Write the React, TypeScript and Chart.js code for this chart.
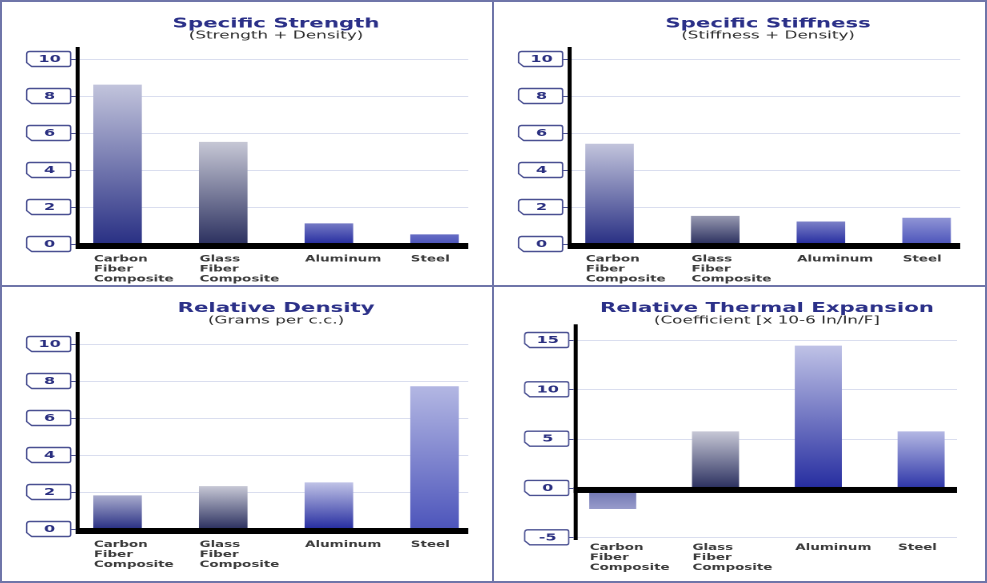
import { useEffect, useRef } from 'react';
import { Chart, registerables } from 'chart.js';

Chart.register(...registerables);

// ---------- data ----------
const categories: (string | string[])[] = [
  ['Carbon', 'Fiber', 'Composite'],
  ['Glass', 'Fiber', 'Composite'],
  'Aluminum',
  'Steel',
];
const strengthValues = [8.6, 5.5, 1.1, 0.5];
const stiffnessValues = [5.4, 1.5, 1.2, 1.4];
const densityValues = [1.8, 2.3, 2.5, 7.7];
const thermalValues = [-2.1, 5.7, 14.4, 5.7];
const ticksZeroToTen = [0, 2, 4, 6, 8, 10];
const ticksThermal = [-5, 0, 5, 10, 15];
const titles = ['Specific Strength', 'Specific Stiffness', 'Relative Density', 'Relative Thermal Expansion'];
const subtitles = ['(Strength + Density)', '(Stiffness + Density)', '(Grams per c.c.)', '(Coefficient [x 10-6 In/In/F]'];

// ---------- styles / layout ----------
const FONT = '"DejaVu Sans", Verdana, sans-serif';
const SX = 1.6;
const barTop = ['#c2c4dc', '#c6c7d5', '#bfc2e6', '#b3b7e3'];
const barBottom = ['#293084', '#2c3160', '#262da0', '#4d55bb'];
const barBottomThermal = ['#293084', '#2c3160', '#262da0', '#2e36a8'];

interface PanelGeom {
  left: number; top: number; width: number; height: number;
  axisX: number; chartLeft: number; chartRight: number; gridEnd: number;
  chartTop: number; chartBottom: number; axisTop: number; axisBottom: number;
  barWidth: number; titleY: number; subY: number; labelY: number;
}

const geomTop = {
  axisX: 75.6, chartLeft: 62.7, chartRight: 485.4, gridEnd: 466.2,
  chartTop: 57, chartBottom: 242, axisTop: 45, axisBottom: 247,
  barWidth: 47.5, titleY: 22, subY: 34, labelY: 257.3,
};

const panels: { geom: PanelGeom; title: string; sub: string; values: number[]; ticks: number[]; bottoms: string[] }[] = [
  { geom: { left: 2, top: 2, width: 490, height: 283, ...geomTop }, title: titles[0], sub: subtitles[0], values: strengthValues, ticks: ticksZeroToTen, bottoms: barBottom },
  { geom: { left: 494, top: 2, width: 491, height: 283, ...geomTop }, title: titles[1], sub: subtitles[1], values: stiffnessValues, ticks: ticksZeroToTen, bottoms: barBottom },
  { geom: { left: 2, top: 287, width: 490, height: 294, ...geomTop, titleY: 21.5, subY: 33.6, labelY: 257.6 }, title: titles[2], sub: subtitles[2], values: densityValues, ticks: ticksZeroToTen, bottoms: barBottom },
  {
    geom: {
      left: 494, top: 287, width: 491, height: 294,
      axisX: 81.7, chartLeft: 67.3, chartRight: 478.5, gridEnd: 463,
      chartTop: 53, chartBottom: 250.3, axisTop: 37.3, axisBottom: 253,
      barWidth: 46, titleY: 21.5, subY: 33.6, labelY: 260.8,
    },
    title: titles[3], sub: subtitles[3], values: thermalValues, ticks: ticksThermal, bottoms: barBottomThermal,
  },
];

const decorPlugin = {
  id: 'decor',
  beforeDatasetsDraw(chart: any, _a: any, o: any) {
    const { ctx } = chart;
    const ys = chart.scales.y;
    ctx.save();
    ctx.scale(1 / o.sx, 1);
    ctx.strokeStyle = '#dadeef';
    ctx.lineWidth = 1;
    for (const t of ys.ticks) {
      const py = Math.round(ys.getPixelForValue(t.value)) + 0.5;
      ctx.beginPath();
      ctx.moveTo(o.axisX, py);
      ctx.lineTo(o.gridEnd, py);
      ctx.stroke();
    }
    ctx.restore();
  },
  afterDatasetsDraw(chart: any, _a: any, o: any) {
    const { ctx } = chart;
    const ys = chart.scales.y;
    const zero = ys.getPixelForValue(0);
    ctx.save();
    ctx.scale(1 / o.sx, 1);
    ctx.fillStyle = '#000';
    ctx.fillRect(o.axisX - 2, zero - 1, o.gridEnd - o.axisX + 2, 6);
    ctx.fillRect(o.axisX - 2, o.axisTop, 4, o.axisBottom - o.axisTop);
    for (const t of ys.ticks) {
      const py = ys.getPixelForValue(t.value);
      const r = o.axisX - 7;
      const l = r - 44;
      const top = py - 7.5;
      const bot = py + 7.5;
      ctx.beginPath();
      ctx.moveTo(l + 3, top);
      ctx.lineTo(r - 2, top);
      ctx.quadraticCurveTo(r, top, r, top + 2);
      ctx.lineTo(r, bot - 2);
      ctx.quadraticCurveTo(r, bot, r - 2, bot);
      ctx.lineTo(l + 5, bot);
      ctx.lineTo(l, bot - 4);
      ctx.lineTo(l, top + 3);
      ctx.quadraticCurveTo(l, top, l + 3, top);
      ctx.closePath();
      ctx.fillStyle = '#ffffff';
      ctx.fill();
      ctx.strokeStyle = '#4a5092';
      ctx.lineWidth = 1.4;
      ctx.stroke();
      const ty = Math.round(py) + 0.5;
      ctx.beginPath();
      ctx.moveTo(r, ty);
      ctx.lineTo(o.axisX - 2, ty);
      ctx.lineWidth = 1;
      ctx.stroke();
    }
    ctx.restore();
    ctx.save();
    ctx.font = `bold 10px ${FONT}`;
    ctx.fillStyle = '#2a2f80';
    ctx.textAlign = 'center';
    ctx.textBaseline = 'middle';
    for (const t of ys.ticks) {
      const py = ys.getPixelForValue(t.value);
      ctx.fillText(String(t.value), (o.axisX - 7 - 22 + 1) / o.sx, py + 0.5);
    }
    ctx.restore();
  },
};

function mix(a: string, b: string, f: number): string {
  const pa = [1, 3, 5].map((i) => parseInt(a.slice(i, i + 2), 16));
  const pb = [1, 3, 5].map((i) => parseInt(b.slice(i, i + 2), 16));
  const c = pa.map((v, i) => Math.round(v + (pb[i] - v) * f));
  return `rgb(${c[0]},${c[1]},${c[2]})`;
}

function Panel({ cfg }: { cfg: (typeof panels)[number] }) {
  const ref = useRef<HTMLCanvasElement>(null);
  const g = cfg.geom;
  const cw = Math.round(g.width / SX);
  const sx = g.width / cw;
  useEffect(() => {
    if (!ref.current) return;
    const labelSize = 8.4;
    const titleSize = 13.3;
    const subSize = 10.5;
    const chart = new Chart(ref.current, {
      type: 'bar',
      data: {
        labels: categories as any,
        datasets: [
          {
            data: cfg.values,
            borderWidth: 0,
            barThickness: g.barWidth / sx,
            backgroundColor: (c: any) => {
              const ch = c.chart;
              const i = c.dataIndex;
              const bottom = cfg.bottoms[i];
              if (!ch.chartArea || c.raw === undefined) return bottom;
              const ys = ch.scales.y;
              const v = c.raw as number;
              const p0 = ys.getPixelForValue(0);
              const p1 = ys.getPixelForValue(v);
              if (v < 0) {
                const gr = ch.ctx.createLinearGradient(0, p0, 0, p1);
                gr.addColorStop(0, '#6a70ae');
                gr.addColorStop(1, '#979bcb');
                return gr;
              }
              const h = p0 - p1;
              const len = Math.max(h, 40);
              const topCol = mix(bottom, barTop[i], h / len);
              const gr = ch.ctx.createLinearGradient(0, p1, 0, p0);
              gr.addColorStop(0, topCol);
              gr.addColorStop(1, bottom);
              return gr;
            },
          },
        ],
      },
      options: {
        responsive: false,
        maintainAspectRatio: false,
        animation: false,
        devicePixelRatio: 2,
        events: [],
        layout: { padding: { left: g.chartLeft / sx, right: (g.width - g.chartRight) / sx, top: 0, bottom: 0 } },
        scales: {
          x: {
            type: 'category',
            offset: true,
            grid: { display: false, drawTicks: false },
            border: { display: false },
            ticks: {
              align: 'start',
              labelOffset: -(g.barWidth / 2) / sx,
              padding: g.labelY - g.chartBottom - 5,
              maxRotation: 0,
              minRotation: 0,
              autoSkip: false,
              color: '#3a3a3a',
              font: { family: FONT, size: labelSize, weight: 'bold', lineHeight: 10 / labelSize },
            },
            afterFit: (s: any) => {
              s.height = g.height - g.chartBottom;
            },
          },
          y: {
            display: false,
            min: cfg.ticks[0],
            max: cfg.ticks[cfg.ticks.length - 1],
            afterBuildTicks: (s: any) => {
              s.ticks = cfg.ticks.map((v) => ({ value: v }));
            },
          },
        },
        plugins: {
          legend: { display: false },
          tooltip: { enabled: false },
          title: {
            display: true,
            text: cfg.title,
            fullSize: false,
            color: '#2b3088',
            font: { family: FONT, size: titleSize, weight: 'bold', lineHeight: 1 },
            padding: { top: g.titleY - titleSize / 2, bottom: 0 },
          },
          subtitle: {
            display: true,
            text: cfg.sub,
            fullSize: false,
            color: '#2c2c2c',
            font: { family: FONT, size: subSize, weight: 'normal', lineHeight: 1 },
            padding: {
              top: Math.max(0, g.subY - subSize / 2 - (g.titleY + titleSize / 2)),
              bottom: g.chartTop - (g.subY + subSize / 2),
            },
          },
          decor: {
            sx,
            axisX: g.axisX,
            gridEnd: g.gridEnd,
            axisTop: g.axisTop,
            axisBottom: g.axisBottom,
          },
        } as any,
      },
      plugins: [decorPlugin as any],
    });
    return () => chart.destroy();
  }, []);
  return (
    <div
      style={{
        position: 'absolute',
        left: g.left,
        top: g.top,
        width: cw,
        height: g.height,
        transform: `scale(${sx}, 1)`,
        transformOrigin: '0 0',
      }}
    >
      <canvas ref={ref} width={cw} height={g.height} style={{ display: 'block', width: cw, height: g.height }} />
    </div>
  );
}

export default function App() {
  const line = '#6f75a9';
  return (
    <div
      style={{
        position: 'absolute',
        left: 0,
        top: 0,
        width: 987,
        height: 583,
        background: '#ffffff',
        overflow: 'hidden',
      }}
    >
      {panels.map((p, i) => (
        <Panel key={i} cfg={p} />
      ))}
      <div style={{ position: 'absolute', left: 0, top: 0, width: 987, height: 583, boxSizing: 'border-box', border: `2px solid ${line}`, pointerEvents: 'none' }} />
      <div style={{ position: 'absolute', left: 492, top: 0, width: 2, height: 583, background: line }} />
      <div style={{ position: 'absolute', left: 0, top: 285, width: 987, height: 2, background: line }} />
    </div>
  );
}
